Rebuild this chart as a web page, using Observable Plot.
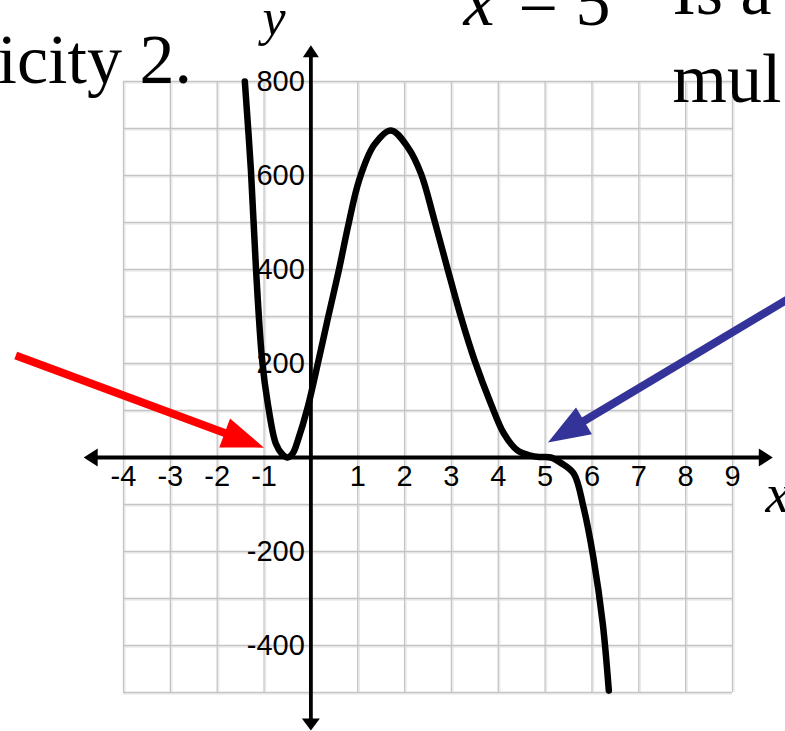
<!DOCTYPE html>
<html>
<head>
<meta charset="utf-8">
<script src="https://cdn.jsdelivr.net/npm/d3@7"></script>
<script src="https://cdn.jsdelivr.net/npm/@observablehq/plot@0.6"></script>
<style>
  body { margin: 0; background: #fff; }
  #chart svg { display: block; background: #fff; }
</style>
</head>
<body>
<div id="chart"></div>
<script>
// Polynomial curve: touches the x-axis at x = -0.5 and flattens through x = 5.
const curveX = [-1.41, -1.28, -1.17, -1.04, -0.92, -0.75, -0.62, -0.5, -0.38, -0.28, -0.07, 0.16, 0.36, 0.6, 0.8, 1.03, 1.35, 1.71, 2.07, 2.35, 2.62, 2.91, 3.2, 3.5, 3.84, 4.12, 4.41, 4.69, 4.9, 5.12, 5.33, 5.61, 5.82, 6.03, 6.23, 6.36];
const curveY = [800, 611, 398, 206, 115, 30, 8, 0, 10, 36, 106, 205, 295, 400, 495, 590, 665, 696, 660, 604, 511, 404, 300, 205, 115, 51, 15, 4, 1, 0, -11, -34, -106, -213, -353, -496];

// Tick labels along the axes
const xTickLabels = [-4, -3, -2, -1, 1, 2, 3, 4, 5, 6, 7, 8, 9];
const yTickLabels = [800, 600, 400, 200, -200, -400];

// Pointer arrows: tail (x1, y1) to tip (x2, y2), in graph units
const arrowX1 = [-6.3, 10.35];
const arrowY1 = [217, 347];
const arrowX2 = [-1.0, 5.06];
const arrowY2 = [21, 32];
const arrowColors = ["#ff0000", "#333399"];

const W = 785, H = 731;
const M = {top: 81, right: 53, bottom: 39, left: 123};
const xDomain = [-4, 9], yDomain = [-500, 800];

// Same linear mapping Plot uses, for arrowhead geometry in pixels
const xs = d3.scaleLinear(xDomain, [M.left, W - M.right]);
const ys = d3.scaleLinear(yDomain, [H - M.bottom, M.top]);

// Filled triangular head, tip at the origin, pointing along angleDeg
function headSymbol(angleDeg, len, half) {
  const a = angleDeg * Math.PI / 180, c = Math.cos(a), s = Math.sin(a);
  const rot = (px, py) => [px * c - py * s, px * s + py * c];
  return {
    draw(ctx) {
      const [ax, ay] = rot(-len, -half), [bx, by] = rot(-len, half);
      ctx.moveTo(0, 0);
      ctx.lineTo(ax, ay);
      ctx.lineTo(bx, by);
      ctx.closePath();
    }
  };
}

const curve = curveX.map((x, i) => ({x, y: curveY[i]}));
const xGrid = d3.range(xDomain[0], xDomain[1] + 1, 1);
const yGrid = d3.range(yDomain[0], yDomain[1] + 1, 100);

// Axis extents (arrow tips) in graph units
const xAxisEnds = [-4.85, 9.86];
const yAxisEnds = [-581, 877];

const marks = [];

// Grid
marks.push(
  Plot.ruleX(xGrid, {y1: yDomain[0], y2: yDomain[1], stroke: "#ebebeb", strokeWidth: 1.5, dx: 1.5}),
  Plot.ruleY(yGrid, {x1: xDomain[0], x2: xDomain[1], stroke: "#ebebeb", strokeWidth: 1.5, dy: 1.5}),
  Plot.ruleX(xGrid, {y1: yDomain[0], y2: yDomain[1], stroke: "#c4c4c4", strokeWidth: 1.3}),
  Plot.ruleY(yGrid, {x1: xDomain[0], x2: xDomain[1], stroke: "#c4c4c4", strokeWidth: 1.3})
);

// Tick labels
const sans = "Liberation Sans, Arial, sans-serif";
marks.push(
  Plot.text(xTickLabels, {x: d => d, y: 0, text: d => String(d), dy: 19, fontSize: 29, fontFamily: sans, fill: "#000"}),
  Plot.text(yTickLabels, {x: 0, y: d => d, text: d => String(d), dx: -6, textAnchor: "end", fontSize: 29, fontFamily: sans, fill: "#000"})
);

// Axes with arrowheads
const axisW = 3.8;
marks.push(
  Plot.ruleY([0], {x1: xs.invert(xs(xAxisEnds[0]) + 6), x2: xs.invert(xs(xAxisEnds[1]) - 6), stroke: "#000", strokeWidth: axisW}),
  Plot.ruleX([0], {y1: ys.invert(ys(yAxisEnds[0]) - 6), y2: ys.invert(ys(yAxisEnds[1]) + 6), stroke: "#000", strokeWidth: axisW}),
  Plot.dot([0], {x: xAxisEnds[0], y: 0, r: 1, symbol: headSymbol(180, 14, 9), fill: "#000", stroke: "none"}),
  Plot.dot([0], {x: xAxisEnds[1], y: 0, r: 1, symbol: headSymbol(0, 14, 9), fill: "#000", stroke: "none"}),
  Plot.dot([0], {x: 0, y: yAxisEnds[1], r: 1, symbol: headSymbol(-90, 12, 8), fill: "#000", stroke: "none"}),
  Plot.dot([0], {x: 0, y: yAxisEnds[0], r: 1, symbol: headSymbol(90, 12, 9), fill: "#000", stroke: "none"})
);

// The curve
marks.push(
  Plot.line(curve, {x: "x", y: "y", curve: "catmull-rom", stroke: "#000", strokeWidth: 6.5, strokeLinecap: "round", strokeLinejoin: "round"})
);

// Pointer arrows
arrowX1.forEach((x1, i) => {
  const px1 = xs(x1), py1 = ys(arrowY1[i]);
  const px2 = xs(arrowX2[i]), py2 = ys(arrowY2[i]);
  const ang = Math.atan2(py2 - py1, px2 - px1);
  const headLen = 42, headHalf = 15.5;
  const bx = px2 - (headLen - 3) * Math.cos(ang), by = py2 - (headLen - 3) * Math.sin(ang);
  marks.push(
    Plot.link([0], {x1: x1, y1: arrowY1[i], x2: xs.invert(bx), y2: ys.invert(by), stroke: arrowColors[i], strokeWidth: 8}),
    Plot.dot([0], {x: arrowX2[i], y: arrowY2[i], r: 1, symbol: headSymbol(ang * 180 / Math.PI, headLen, headHalf), fill: arrowColors[i], stroke: "none"})
  );
});

// Surrounding slide text
const serif = "Liberation Serif, Times New Roman, serif";
const note = (t, dx, dy, size, style) => Plot.text([t], {
  frameAnchor: "top-left", text: d => d, dx, dy, textAnchor: "start", lineAnchor: "bottom",
  fontSize: size, fontFamily: serif, fontStyle: style || "normal", fill: "#000"
});
marks.push(
  note("icity 2.", -126, 1, 70),
  note("y", 139, -47, 52, "italic"),
  note("x", 340, -57, 70, "italic"),
  note("= 5", 395, -57, 70),
  note("Is a", 549, -68, 70),
  note("mul", 549, 20, 70),
  note("x", 642, 430, 55, "italic")
);

const chart = Plot.plot({
  width: W,
  height: H,
  marginTop: M.top,
  marginRight: M.right,
  marginBottom: M.bottom,
  marginLeft: M.left,
  x: {domain: xDomain, axis: null},
  y: {domain: yDomain, axis: null},
  style: {background: "#fff"},
  marks
});
document.getElementById("chart").appendChild(chart);
</script>
</body>
</html>
